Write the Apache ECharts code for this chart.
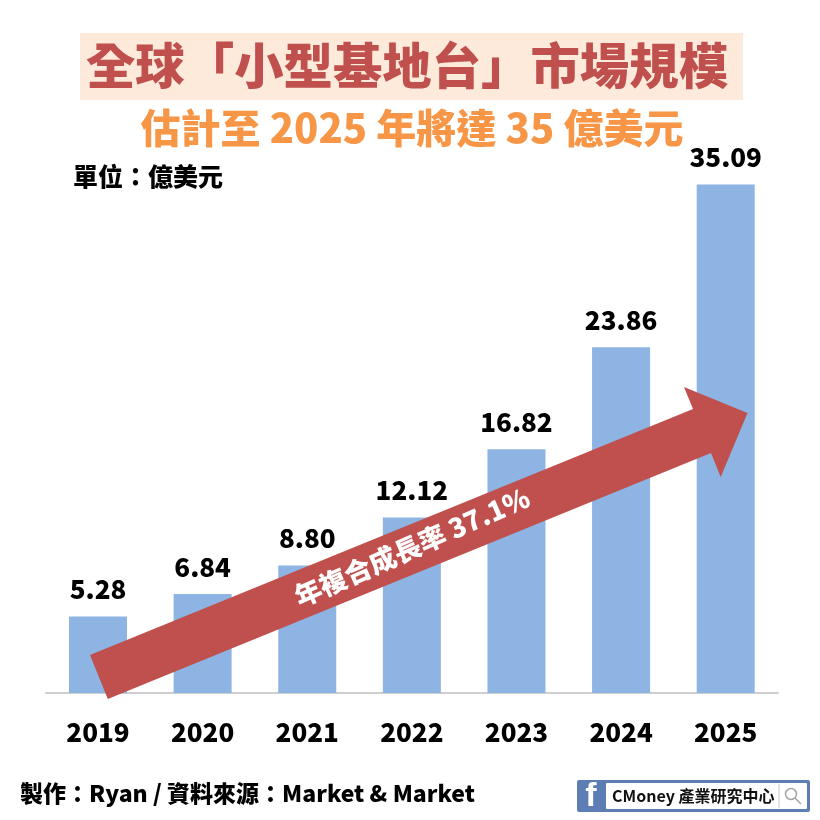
<!DOCTYPE html>
<html><head><meta charset="utf-8">
<style>html,body{margin:0;padding:0;background:#fff}#c{width:820px;height:820px}</style>
<script src="https://cdn.jsdelivr.net/npm/echarts@6/dist/echarts.min.js"></script>
</head><body><div id="c"></div>
<script>
const years = ['2019','2020','2021','2022','2023','2024','2025'];
const values = [5.28,6.84,8.80,12.12,16.82,23.86,35.09];
const valueLabels = ['5.28','6.84','8.80','12.12','16.82','23.86','35.09'];
const titleText = '全球「小型基地台」市場規模';
const subtitleText = '估計至 2025 年將達 35 億美元';
const unitText = '單位：億美元';
const arrowText = '年複合成長率 37.1%';
const footerText = '製作：Ryan / 資料來源：Market & Market';
const brandText = 'CMoney 產業研究中心';
const F = '"Noto Sans CJK TC","Noto Sans",sans-serif';
const chart = echarts.init(document.getElementById('c'), null, {renderer:'canvas'});
chart.setOption({
  animation:false,
  backgroundColor:'#fff',
  grid:{left:45.7,right:42,top:171.4,bottom:127,containLabel:false},
  xAxis:{type:'category',data:years,
    axisLine:{lineStyle:{color:'#BFBFBF',width:1.5}},axisTick:{show:false},
    axisLabel:{color:'#000',fontFamily:F,fontWeight:900,fontSize:26,margin:26}},
  yAxis:{type:'value',min:0,max:36,show:false,splitLine:{show:false}},
  series:[{type:'bar',data:values,barWidth:58,itemStyle:{color:'#8DB4E2'},
    label:{show:true,position:'top',distance:14,color:'#000',fontFamily:F,fontWeight:900,fontSize:26,
      formatter:p=>valueLabels[p.dataIndex]}}],
  graphic:[
    {type:'rect',z:1,shape:{x:80,y:33,width:663,height:67},style:{fill:'#FDEADA'}},
    {type:'text',z:2,x:407,y:65,style:{text:titleText,fill:'#C0504D',font:'900 49.4px '+F,textAlign:'center',textVerticalAlign:'middle'}},
    {type:'text',z:2,x:412,y:128,style:{text:subtitleText,fill:'#F79646',font:'900 40px '+F,textAlign:'center',textVerticalAlign:'middle'}},
    {type:'text',z:2,x:73,y:176,style:{text:unitText,fill:'#000',font:'900 25px '+F,textAlign:'left',textVerticalAlign:'middle'}},
    {type:'polygon',z:10,shape:{points:[[90,655],[693,409],[684,387],[747.5,413],[720.7,477],[711,453],[107.8,699]]},style:{fill:'#C0504D'}},
    {type:'text',z:11,x:412,y:547,rotation:0.415,style:{text:arrowText,fill:'#fff',font:'900 27px '+F,textAlign:'center',textVerticalAlign:'middle'}},
    {type:'text',z:2,x:20,y:793,style:{text:footerText,fill:'#000',font:'900 23px '+F,textAlign:'left',textVerticalAlign:'middle'}},
    {type:'rect',z:2,shape:{x:577,y:780,width:233,height:32,r:2},style:{fill:'#5D7DB5'}},
    {type:'rect',z:3,shape:{x:606,y:783,width:201,height:26,r:1},style:{fill:'#fff'}},
    {type:'text',z:4,x:591,y:797,style:{text:'f',fill:'#fff',font:'900 34px "Liberation Sans",sans-serif',textAlign:'center',textVerticalAlign:'middle'}},
    {type:'text',z:4,x:612,y:796,style:{text:brandText,fill:'#111',font:'700 16px '+F,textAlign:'left',textVerticalAlign:'middle'}},
    {type:'line',z:4,shape:{x1:779,y1:784,x2:779,y2:808},style:{stroke:'#C8C8C8',lineWidth:1}},
    {type:'circle',z:4,shape:{cx:791,cy:794,r:5.5},style:{fill:'none',stroke:'#A6A6A6',lineWidth:1.5}},
    {type:'line',z:4,shape:{x1:795,y1:798,x2:801,y2:804},style:{stroke:'#A6A6A6',lineWidth:1.5}}
  ]
});
</script></body></html>
